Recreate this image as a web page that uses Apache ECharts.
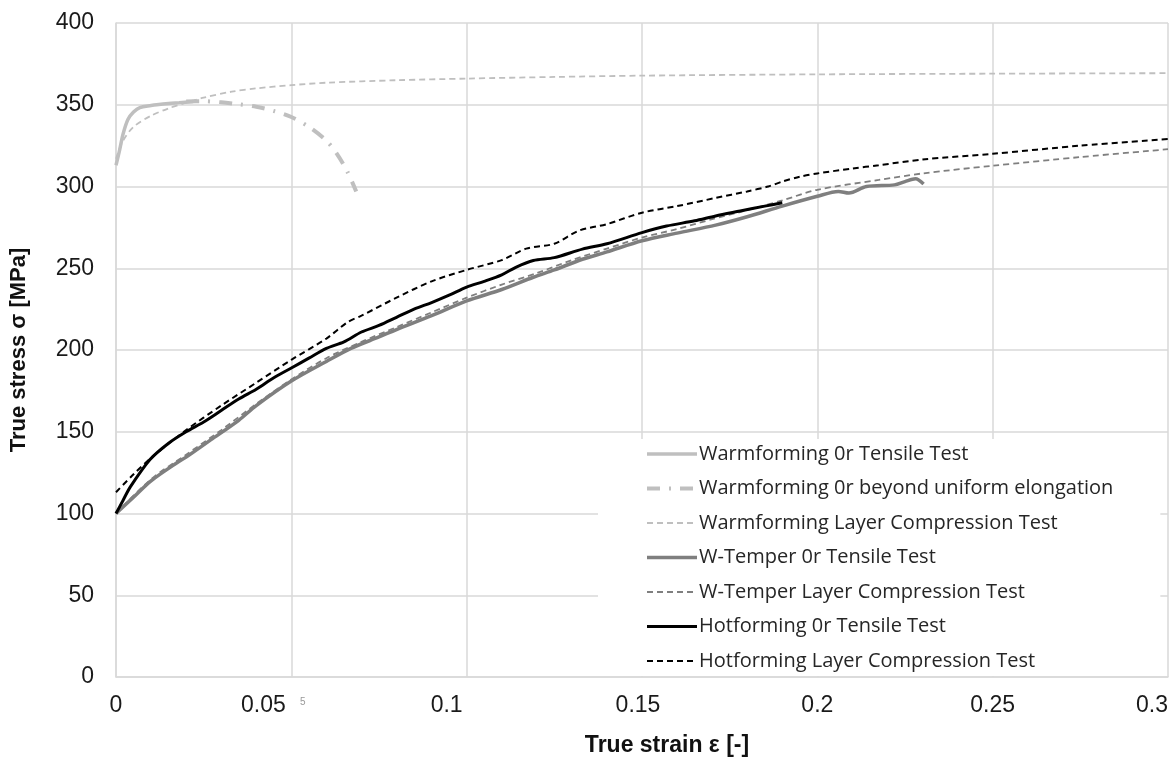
<!DOCTYPE html>
<html lang="en">
  <head>
    <meta charset="UTF-8" />
    <title>True stress vs true strain</title>
    <script src="https://cdn.jsdelivr.net/npm/echarts@6/dist/echarts.min.js"></script>
    <style>
      html, body { margin: 0; padding: 0; background: #fff; }
    </style>
  </head>
  <body>
    <div id="chart" style="width: 1174px; height: 762px"></div>
    <script>
      // [true strain, true stress]
      const warmTensile = [
        [0, 313], [0.001, 322], [0.002, 332], [0.0034, 341], [0.005, 345.5],
        [0.0068, 348.3], [0.01, 349.5], [0.0116, 350], [0.015, 350.8],
        [0.018, 351.3], [0.022, 352]
      ];
      const warmBeyond = [
        [0.02, 352], [0.025, 352.2], [0.03, 351.5], [0.035, 350.3],
        [0.04, 348.8], [0.045, 346.2], [0.05, 342.5], [0.055, 336.5],
        [0.06, 328], [0.063, 320], [0.066, 309], [0.0685, 297]
      ];
      const warmLayer = [
        [0, 317], [0.002, 328], [0.005, 336.5], [0.01, 343.3], [0.015, 347.8],
        [0.02, 351.3], [0.025, 354.3], [0.033, 358], [0.04, 360], [0.05, 362],
        [0.06, 363.5], [0.08, 365], [0.1, 366], [0.125, 367], [0.15, 367.8],
        [0.2, 368.6], [0.25, 369], [0.3, 369.3]
      ];
      const wTemperTensile = [
        [0, 100], [0.005, 110], [0.01, 120], [0.0177, 131.5], [0.02, 134.5],
        [0.027, 145], [0.035, 157], [0.04, 166], [0.05, 181], [0.06, 193],
        [0.067, 201], [0.075, 208], [0.08, 212.5], [0.09, 221], [0.1, 230],
        [0.11, 237], [0.119, 244.5], [0.125, 249], [0.133, 255.5], [0.14, 260],
        [0.15, 266.8], [0.16, 271.5], [0.171, 276.4], [0.18, 281.5],
        [0.19, 288], [0.2, 294], [0.206, 297], [0.209, 296], [0.214, 300],
        [0.222, 301], [0.225, 303], [0.228, 304.7], [0.2303, 301.5]
      ];
      const wTemperLayer = [
        [0, 100], [0.01, 121], [0.02, 136], [0.03, 151], [0.04, 167],
        [0.05, 182], [0.06, 195], [0.07, 205], [0.08, 214], [0.09, 223],
        [0.1, 232], [0.11, 240], [0.12, 247], [0.13, 255], [0.14, 262],
        [0.15, 268.8], [0.16, 274], [0.17, 280], [0.18, 285.5], [0.19, 291.5],
        [0.2, 298], [0.2175, 304], [0.23, 308], [0.25, 312.7], [0.275, 318],
        [0.3, 322.8]
      ];
      const hotTensile = [
        [0, 100], [0.002, 108], [0.004, 116], [0.0097, 133], [0.015, 143],
        [0.02, 150], [0.025, 156], [0.03, 163], [0.035, 170], [0.04, 176],
        [0.045, 183], [0.05, 189], [0.055, 195], [0.06, 201], [0.065, 205],
        [0.07, 211], [0.075, 215], [0.08, 220], [0.085, 225], [0.09, 229],
        [0.095, 233.5], [0.1, 238.5], [0.105, 242], [0.11, 246], [0.114, 250.6],
        [0.119, 254.7], [0.125, 256.5], [0.133, 261.7], [0.14, 265],
        [0.15, 271.8], [0.157, 275.8], [0.165, 279], [0.171, 282],
        [0.178, 285], [0.185, 288], [0.19, 290]
      ];
      const hotLayer = [
        [0, 113], [0.005, 124], [0.01, 134], [0.02, 151], [0.03, 166],
        [0.04, 180], [0.05, 194], [0.06, 207], [0.066, 217], [0.07, 221],
        [0.08, 232], [0.09, 242], [0.1, 249], [0.11, 255], [0.117, 262],
        [0.125, 265], [0.132, 273], [0.14, 277], [0.15, 284], [0.16, 288],
        [0.171, 293], [0.18, 297], [0.186, 300], [0.19, 303], [0.195, 306],
        [0.2, 308], [0.21, 311], [0.2175, 313], [0.23, 316.5], [0.25, 320],
        [0.275, 325], [0.3, 329]
      ];
      const seriesNames = [
        "Warmforming 0r Tensile Test",
        "Warmforming 0r beyond uniform elongation",
        "Warmforming Layer Compression Test",
        "W-Temper 0r Tensile Test",
        "W-Temper Layer Compression Test",
        "Hotforming 0r Tensile Test",
        "Hotforming Layer Compression Test"
      ];

      const light = "#bfbfbf";
      const mid = "#7f7f7f";
      const dark = "#000000";
      const gridColor = "#d9d9d9";

      // the source figure's tick labels sit a bit left of their gridlines
      const labelNudge = { "0.05": 56, "0.1": 40, "0.15": 8 };

      const line = (name, data, color, width, type) => ({
        name: name,
        type: "line",
        data: data,
        symbol: "none",
        smooth: 0.3,
        lineStyle: { color: color, width: width, type: type },
        itemStyle: { color: color },
        emphasis: { disabled: true },
        animation: false
      });

      const chart = echarts.init(document.getElementById("chart"));
      chart.setOption({
        backgroundColor: "#fff",
        grid: { left: 116, right: 6, top: 23, bottom: 78 },
        xAxis: {
          type: "value",
          min: 0,
          max: 0.3,
          interval: 0.05,
          name: "True strain \u03b5 [-]",
          nameLocation: "middle",
          nameGap: 57,
          nameTextStyle: {
            fontFamily: "Liberation Sans",
            fontWeight: "bold",
            fontSize: 23,
            color: "#111",
            padding: [0, 0, 0, 50]
          },
          axisLine: { lineStyle: { color: gridColor, width: 1.5 } },
          axisTick: { show: false },
          splitLine: { lineStyle: { color: gridColor, width: 1.5 } },
          axisLabel: {
            fontFamily: "Liberation Sans",
            fontSize: 23,
            color: "#1a1a1a",
            margin: 17,
            alignMaxLabel: "right",
            formatter: (v) => {
              const key = String(+v.toFixed(2));
              return labelNudge[key] ? "{n" + labelNudge[key] + "|" + key + "}" : key;
            },
            rich: {
              n56: { padding: [0, 56, 0, 0], fontSize: 23, fontFamily: "Liberation Sans", color: "#1a1a1a" },
              n40: { padding: [0, 40, 0, 0], fontSize: 23, fontFamily: "Liberation Sans", color: "#1a1a1a" },
              n8: { padding: [0, 8, 0, 0], fontSize: 23, fontFamily: "Liberation Sans", color: "#1a1a1a" }
            }
          }
        },
        yAxis: {
          type: "value",
          min: 0,
          max: 400,
          interval: 50,
          name: "True stress \u03c3 [MPa]",
          nameLocation: "middle",
          nameGap: 86,
          nameTextStyle: { fontFamily: "Liberation Sans", fontWeight: "bold", fontSize: 22, color: "#111" },
          axisLine: { show: true, lineStyle: { color: gridColor, width: 1.5 } },
          axisTick: { show: false },
          splitLine: { lineStyle: { color: gridColor, width: 1.5 } },
          axisLabel: {
            fontFamily: "Liberation Sans",
            fontSize: 23,
            color: "#1a1a1a",
            margin: 22
          }
        },
        legend: {
          orient: "vertical",
          left: 598,
          top: 439,
          padding: [5, 47, 5, 47],
          backgroundColor: "#fff",
          itemWidth: 50,
          itemHeight: 14,
          itemGap: 14.5,
          selectedMode: false,
          data: seriesNames,
          itemStyle: { opacity: 0 },
          lineStyle: { width: "inherit" },
          textStyle: { fontFamily: "Open Sans", fontSize: 20, color: "#262626", lineHeight: 20, padding: [0, 0, 0, -3] }
        },
        graphic: [
          {
            type: "text",
            left: 300,
            top: 697,
            style: { text: "5", fontSize: 10, fill: "#999", fontFamily: "Liberation Sans" }
          }
        ],
        series: [
          line(seriesNames[0], warmTensile, light, 3.5, "solid"),
          line(seriesNames[1], warmBeyond, light, 4, [13, 9, 2, 9]),
          line(seriesNames[2], warmLayer, light, 1.8, [6, 4]),
          line(seriesNames[3], wTemperTensile, mid, 3.5, "solid"),
          line(seriesNames[4], wTemperLayer, mid, 1.8, [6, 4]),
          line(seriesNames[5], hotTensile, dark, 3, "solid"),
          line(seriesNames[6], hotLayer, dark, 2, [6, 4])
        ]
      });
    </script>
  </body>
</html>
